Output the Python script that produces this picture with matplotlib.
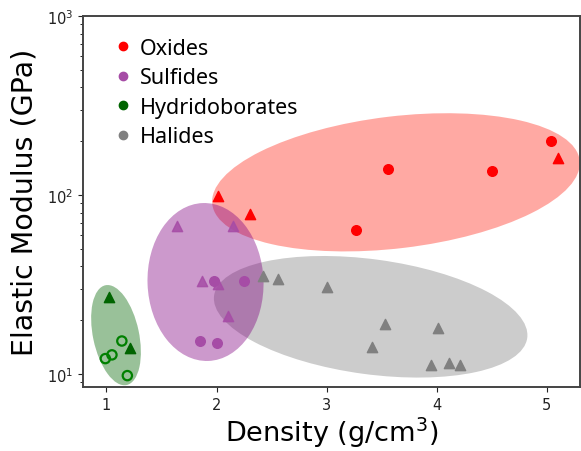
import matplotlib
matplotlib.use("Agg")
import matplotlib.pyplot as plt
from matplotlib.lines import Line2D
from matplotlib.patches import Ellipse
from matplotlib.transforms import IdentityTransform

# measured values (density g/cm3, modulus GPa)
oxide_circ_x = [5.04, 3.56, 4.50, 3.27]
oxide_circ_y = [200, 140, 136, 64]
oxide_tri_x = [5.10, 2.01, 2.30]
oxide_tri_y = [161, 99, 78]

sulfide_circ_x = [1.98, 2.25, 1.85, 2.00]
sulfide_circ_y = [33, 33, 15.4, 14.9]
sulfide_tri_x = [1.64, 2.15, 1.87, 2.01, 2.10]
sulfide_tri_y = [67, 67, 33, 32, 21]

hydrido_tri_x = [1.02, 1.21]
hydrido_tri_y = [27, 13.9]
hydrido_open_x = [1.14, 1.05, 0.99, 1.19]
hydrido_open_y = [15.3, 12.8, 12.2, 9.8]

halide_tri_x = [2.42, 2.56, 3.00, 3.53, 4.01, 3.41, 3.95, 4.11, 4.21]
halide_tri_y = [35.5, 34, 30.5, 19, 18, 14.1, 11.3, 11.6, 11.3]

# group ellipses: centre in data units, size in pixels, angle in degrees
ellipses = [
    (3.63, 118, 370, 132, 6.8, "#ff2a1a"),
    (3.40, 20.9, 316, 115, -7.7, "gray"),
    (1.90, 32.7, 116, 158, 2, "purple"),
    (1.087, 16.5, 46, 102, 12, "darkgreen"),
]

purple_c = "#a64ca6"

fig = plt.figure(figsize=(5.81, 4.52), dpi=100)
ax = fig.add_axes([0.1434, 0.1409, 0.8546, 0.8208])
ax.set_yscale("log")
ax.set_xlim(0.79, 5.30)
ax.set_ylim(8.43, 1000)

for cx, cy, w, h, ang, col in ellipses:
    centre = ax.transData.transform((cx, cy))
    e = Ellipse(centre, w, h, angle=ang, transform=IdentityTransform(),
                facecolor=col, alpha=0.4, edgecolor="none", zorder=1)
    ax.add_patch(e)

ax.scatter(oxide_circ_x, oxide_circ_y, s=48, c="red", marker="o", zorder=3)
ax.scatter(oxide_tri_x, oxide_tri_y, s=55, c="red", marker="^", zorder=3)
ax.scatter(sulfide_circ_x, sulfide_circ_y, s=48, c=purple_c, marker="o", zorder=3)
ax.scatter(sulfide_tri_x, sulfide_tri_y, s=55, c=purple_c, marker="^", zorder=3, alpha=0.85)
ax.scatter(hydrido_tri_x, hydrido_tri_y, s=55, c="darkgreen", marker="^", zorder=3)
ax.scatter(hydrido_open_x, hydrido_open_y, s=45, facecolors="none",
           edgecolors="green", linewidths=1.6, marker="o", zorder=3)
ax.scatter(halide_tri_x, halide_tri_y, s=55, c="gray", marker="^", zorder=3)

ax.set_xlim(0.79, 5.30)
ax.set_ylim(8.43, 1000)
ax.set_xticks([1, 2, 3, 4, 5])

for sp in ax.spines.values():
    sp.set_color("#444444")
    sp.set_linewidth(1.4)
ax.tick_params(labelsize=10.5, colors="#222222")

ax.set_xlabel("Density (g/cm$^3$)", fontsize=19.5, labelpad=2)
ax.set_ylabel("Elastic Modulus (GPa)", fontsize=20.5, labelpad=6)

handles = [
    Line2D([], [], marker="o", ls="none", color="red", markersize=6, label="Oxides"),
    Line2D([], [], marker="o", ls="none", color=purple_c, markersize=6, label="Sulfides"),
    Line2D([], [], marker="o", ls="none", color="darkgreen", markersize=6, label="Hydridoborates"),
    Line2D([], [], marker="o", ls="none", color="gray", markersize=6, label="Halides"),
]
ax.legend(handles=handles, loc="upper left", bbox_to_anchor=(0.02, 0.995),
          frameon=False, handlelength=1.0, handletextpad=0.25, labelspacing=0.4,
          prop={"family": "Noto Sans", "size": 15.5})

fig.savefig("out.png", dpi=100)
